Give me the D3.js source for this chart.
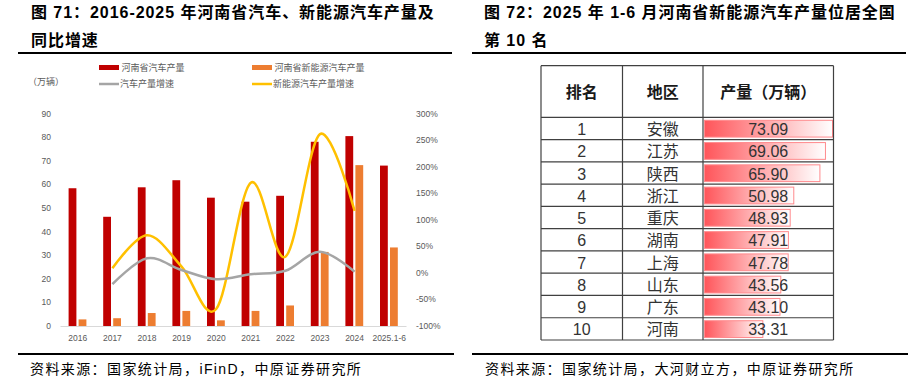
<!DOCTYPE html>
<html><head><meta charset="utf-8">
<script src="https://cdn.jsdelivr.net/npm/d3@7"></script>
<style>html,body{margin:0;padding:0;background:#fff;}svg{display:block;}</style>
</head><body>
<svg id="c" width="912" height="382"></svg>
<script>
// ---- Left chart data ----
const years = ["2016","2017","2018","2019","2020","2021","2022","2023","2024","2025.1-6"];
const autoOutput = [58.4,46.3,58.8,61.8,54.4,52.7,55.2,78.1,80.5,68.0];
const nevOutput = [2.8,3.3,5.5,6.4,2.4,6.4,8.7,31.4,68.2,33.3];
const growthYears = ["2017","2018","2019","2020","2021","2022","2023","2024"];
const autoGrowth = [-0.21,0.275,0.055,-0.12,-0.025,0.04,0.40,0.023];
const nevGrowth = [0.087,0.71,0.12,-0.68,1.70,0.305,2.615,1.17];
const leftTicks = [0,10,20,30,40,50,60,70,80,90];
const rightTicks = [-1,-0.5,0,0.5,1,1.5,2,2.5,3];
// ---- Right table data ----
const ranks = ["1","2","3","4","5","6","7","8","9","10"];
const regions = ["安徽","江苏","陕西","浙江","重庆","湖南","上海","山东","广东","河南"];
const nevByRegion = [73.09,69.06,65.90,50.98,48.93,47.91,47.78,43.56,43.10,33.31];
const tableHeaders = ["排名","地区","产量（万辆）"];

const svg = d3.select("#c");
const CJK = "'Liberation Sans','Noto Sans CJK SC',sans-serif";

// ---- Titles ----
function title(x, lines){
  lines.forEach((t,i)=>{
    svg.append("text").attr("x",x).attr("y",18+i*27.5)
      .attr("font-family",CJK).attr("font-weight","bold").attr("font-size",16)
      .attr("letter-spacing",0.95).attr("fill","#000").text(t);
  });
}
title(31,["图 71：2016-2025 年河南省汽车、新能源汽车产量及","同比增速"]);
title(484,["图 72：2025 年 1-6 月河南省新能源汽车产量位居全国","第 10 名"]);
// rules
[[18,452],[472,906]].forEach(([a,b])=>{
  svg.append("line").attr("x1",a).attr("x2",b).attr("y1",53).attr("y2",53).attr("stroke","#000").attr("stroke-width",2);
  svg.append("line").attr("x1",a).attr("x2",b+2).attr("y1",354).attr("y2",354).attr("stroke","#000").attr("stroke-width",2);
});
svg.append("text").attr("x",30).attr("y",374).attr("font-family",CJK).attr("font-size",14).attr("letter-spacing",1.4).text("资料来源：国家统计局，iFinD，中原证券研究所");
svg.append("text").attr("x",485).attr("y",374).attr("font-family",CJK).attr("font-size",14).attr("letter-spacing",1.4).text("资料来源：国家统计局，大河财立方，中原证券研究所");

// ---- Left chart ----
const x = d3.scaleBand().domain(years).range([60.5,406.5]).padding(0);
const yL = d3.scaleLinear().domain([0,90]).range([326,113.7]);
const yR = d3.scaleLinear().domain([-1,3]).range([326,113.7]);
const cx = d => x(d)+x.bandwidth()/2;
const g = svg.append("g");

// axis line
g.append("line").attr("x1",60.5).attr("x2",406.5).attr("y1",326.5).attr("y2",326.5).attr("stroke","#d9d9d9").attr("stroke-width",1);

const tickFont = "'Liberation Sans','Noto Sans CJK SC',sans-serif";
g.selectAll(".lt").data(leftTicks).join("text").attr("x",51).attr("y",d=>yL(d)).attr("dy","0.35em")
  .attr("text-anchor","end").attr("font-family",tickFont).attr("font-size",8.5).attr("fill","#595959").text(d=>d);
g.selectAll(".rt").data(rightTicks).join("text").attr("x",416).attr("y",d=>yR(d)).attr("dy","0.35em")
  .attr("text-anchor","start").attr("font-family",tickFont).attr("font-size",8.5).attr("fill","#595959").text(d=>d3.format(".0%")(d).replace("−","-"));
g.selectAll(".xt").data(years).join("text").attr("x",d=>cx(d)).attr("y",338).attr("dy","0.35em")
  .attr("text-anchor","middle").attr("font-family",tickFont).attr("font-size",8.5).attr("fill","#595959").text(d=>d);

g.selectAll(".ba").data(years).join("rect").attr("x",d=>cx(d)-9.2).attr("width",7.8)
  .attr("y",(d,i)=>yL(autoOutput[i])).attr("height",(d,i)=>yL(0)-yL(autoOutput[i])).attr("fill","#C00000");
g.selectAll(".bn").data(years).join("rect").attr("x",d=>cx(d)+0.8).attr("width",7.8)
  .attr("y",(d,i)=>yL(nevOutput[i])).attr("height",(d,i)=>yL(0)-yL(nevOutput[i])).attr("fill","#ED7D31");

const line = (arr)=> d3.line().x((d,i)=>cx(growthYears[i])).y(d=>yR(d)).curve(d3.curveCardinal.tension(0))(arr);
g.append("path").attr("d",line(nevGrowth)).attr("fill","none").attr("stroke","#FFC000").attr("stroke-width",2.5);
g.append("path").attr("d",line(autoGrowth)).attr("fill","none").attr("stroke","#A5A5A5").attr("stroke-width",2.5);

// legend
const lg = svg.append("g").attr("font-family",CJK).attr("font-size",9).attr("fill","#595959");
lg.append("rect").attr("x",99).attr("y",65).attr("width",20).attr("height",5).attr("fill","#C00000");
lg.append("text").attr("x",121.5).attr("y",67.5).attr("dy","0.35em").text("河南省汽车产量");
lg.append("rect").attr("x",252).attr("y",65).attr("width",20).attr("height",5).attr("fill","#ED7D31");
lg.append("text").attr("x",274.5).attr("y",67.5).attr("dy","0.35em").text("河南省新能源汽车产量");
lg.append("line").attr("x1",99).attr("x2",119).attr("y1",84).attr("y2",84).attr("stroke","#A5A5A5").attr("stroke-width",2.5);
lg.append("text").attr("x",120).attr("y",84).attr("dy","0.35em").text("汽车产量增速");
lg.append("line").attr("x1",252).attr("x2",272).attr("y1",84).attr("y2",84).attr("stroke","#FFC000").attr("stroke-width",2.5);
lg.append("text").attr("x",273).attr("y",84).attr("dy","0.35em").text("新能源汽车产量增速");
lg.append("text").attr("x",28).attr("y",82).attr("dy","0.35em").text("（万辆）");

// ---- Right table ----
const colX = [541,622.5,703,833.5];
const headTop = 65.7, headBot = 117.3, tableBot = 340;
const rowY = d3.scaleBand().domain(ranks).range([headBot,tableBot]).padding(0);
const barW = d3.scaleLinear().domain([0,d3.max(nevByRegion)]).range([0,128]);
const t = svg.append("g");
const defs = svg.append("defs");
const grad = defs.append("linearGradient").attr("id","rg").attr("x1","0").attr("x2","1").attr("y1","0").attr("y2","0");
grad.append("stop").attr("offset","0").attr("stop-color","#FF555A");
grad.append("stop").attr("offset","1").attr("stop-color","#FFFFFF");

t.selectAll(".db").data(ranks).join("rect")
  .attr("x",704.5).attr("y",d=>rowY(d)+3).attr("height",rowY.bandwidth()-5.5)
  .attr("width",(d,i)=>barW(nevByRegion[i])).attr("fill","url(#rg)")
  .attr("stroke","#FF8A8D").attr("stroke-width",1);

// grid
const gridColor = "#404040";
[headTop,headBot,...ranks.map(r=>rowY(r)+rowY.bandwidth())].forEach(yv=>{
  t.append("line").attr("x1",colX[0]).attr("x2",colX[3]).attr("y1",yv).attr("y2",yv).attr("stroke",gridColor).attr("stroke-width",1.2);
});
colX.forEach(xv=>{
  t.append("line").attr("x1",xv).attr("x2",xv).attr("y1",headTop).attr("y2",tableBot).attr("stroke",gridColor).attr("stroke-width",1.2);
});
const colC = [ (colX[0]+colX[1])/2, (colX[1]+colX[2])/2, (colX[2]+colX[3])/2 ];
t.selectAll(".hd").data(tableHeaders).join("text").attr("x",(d,i)=>colC[i]).attr("y",(headTop+headBot)/2+1)
  .attr("dy","0.35em").attr("text-anchor","middle").attr("font-family",CJK).attr("font-weight","bold").attr("font-size",16).attr("fill","#1a1a1a").text(d=>d);
t.selectAll(".rk").data(ranks).join("text").attr("x",colC[0]).attr("y",d=>rowY(d)+rowY.bandwidth()/2+1)
  .attr("dy","0.35em").attr("text-anchor","middle").attr("font-family",CJK).attr("font-size",16).attr("fill","#333").text(d=>d);
t.selectAll(".rg").data(regions).join("text").attr("x",colC[1]).attr("y",(d,i)=>rowY(ranks[i])+rowY.bandwidth()/2+1)
  .attr("dy","0.35em").attr("text-anchor","middle").attr("font-family",CJK).attr("font-size",16).attr("fill","#333").text(d=>d);
t.selectAll(".vl").data(nevByRegion).join("text").attr("x",colC[2]).attr("y",(d,i)=>rowY(ranks[i])+rowY.bandwidth()/2+1)
  .attr("dy","0.35em").attr("text-anchor","middle").attr("font-family",CJK).attr("font-size",16).attr("fill","#333").text(d=>d.toFixed(2));
</script>
</body></html>
